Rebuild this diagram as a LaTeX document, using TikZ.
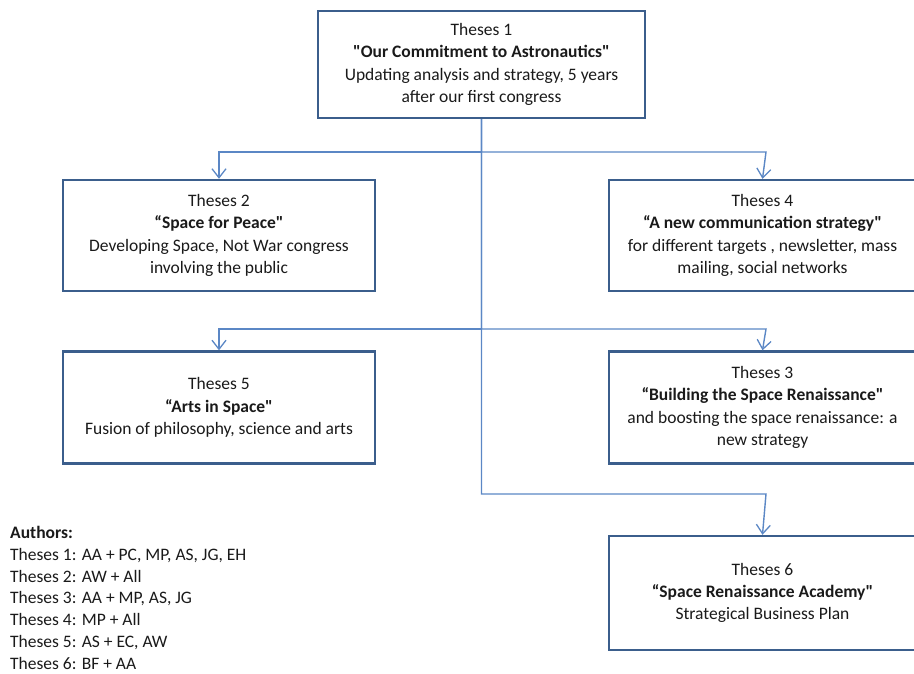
\documentclass[tikz,border=0pt]{standalone}
\usepackage{fontspec}
\setmainfont{Carlito}
\usepackage{tikz}
\usetikzlibrary{arrows.meta, calc, positioning}
\usepackage{xcolor}
\definecolor{Frame}{HTML}{3B5E8C}
\definecolor{Wire} {HTML}{5B87C5}
\definecolor{Ink}  {HTML}{1A1A1A}
\newcommand{\sq}{\textquotedbl}
\tikzset{
  thesis/.style args={#1/#2}{
    rectangle, draw=Frame, fill=white, text=Ink,
    font=\fontsize{17.5}{22.3}\selectfont, align=center,
    inner sep=4pt, minimum width=#1, minimum height=#2,
    line width=2.4pt,
  },
  wire/.style={
    -{Straight Barb[length=9pt,width=14pt,line width=1.3pt]},
    line width=1.4pt, color=Wire,
  },
  authors/.style={
    font=\fontsize{17.5}{21.8}\selectfont, text=Ink,
    align=left, inner sep=0pt,
  },
}

\begin{document}
\begin{tikzpicture}[x=1pt,y=-1pt]
  \useasboundingbox (0,0) rectangle (914,673);
  % bus coordinates
  \coordinate (b1l) at (219,152);
  \coordinate (b1r) at (766,152);
  \coordinate (b2l) at (219,329);
  \coordinate (b2r) at (766,329);
  \coordinate (b3r) at (766,494);

  \node[thesis=327pt/107pt](t1) at (481.5,64.5) {Theses 1\\\textbf{\sq Our Commitment to Astronautics\sq}\\Updating analysis and strategy, 5 years\\after our first congress};
  \node[thesis=312pt/111pt](t2) at (219,235.5)  {Theses 2\\\textbf{“Space for Peace\sq}\\Developing Space, Not War congress\\involving the public};
  \node[thesis=307pt/111pt](t4) at (762.5,235.5){Theses 4\\\textbf{“A new communication strategy\sq}\\for different targets , newsletter, mass\\mailing, social networks};
  \node[thesis=312pt/112pt](t5) at (219,407.5)  {Theses 5\\\textbf{“Arts in Space\sq}\\Fusion of philosophy, science and arts};
  \node[thesis=307pt/112pt](t3) at (762.5,407.5){Theses 3\\\textbf{“Building the Space Renaissance\sq}\\and boosting the space renaissance: a\\new strategy};
  \node[thesis=307pt/114pt](t6) at (762.5,593)  {Theses 6\\\textbf{“Space Renaissance Academy\sq}\\Strategical Business Plan};

  \draw[wire](t1.south) |- (b1l) -- (t2.north);
  \draw[wire](t1.south) |- (b1r) -- (t4.north);
  \draw[wire](t1.south) |- (b2l) -- (t5.north);
  \draw[wire](t1.south) |- (b2r) -- (t3.north);
  \draw[wire](t1.south) |- (b3r) -- (t6.north);

  \node[authors, anchor=north west](au) at (10,526) {\textbf{Authors:}\\Theses 1: AA + PC, MP, AS, JG, EH\\Theses 2: AW + All\\Theses 3: AA + MP, AS, JG\\Theses 4: MP + All\\Theses 5: AS + EC, AW\\Theses 6: BF + AA};
\end{tikzpicture}
\end{document}
